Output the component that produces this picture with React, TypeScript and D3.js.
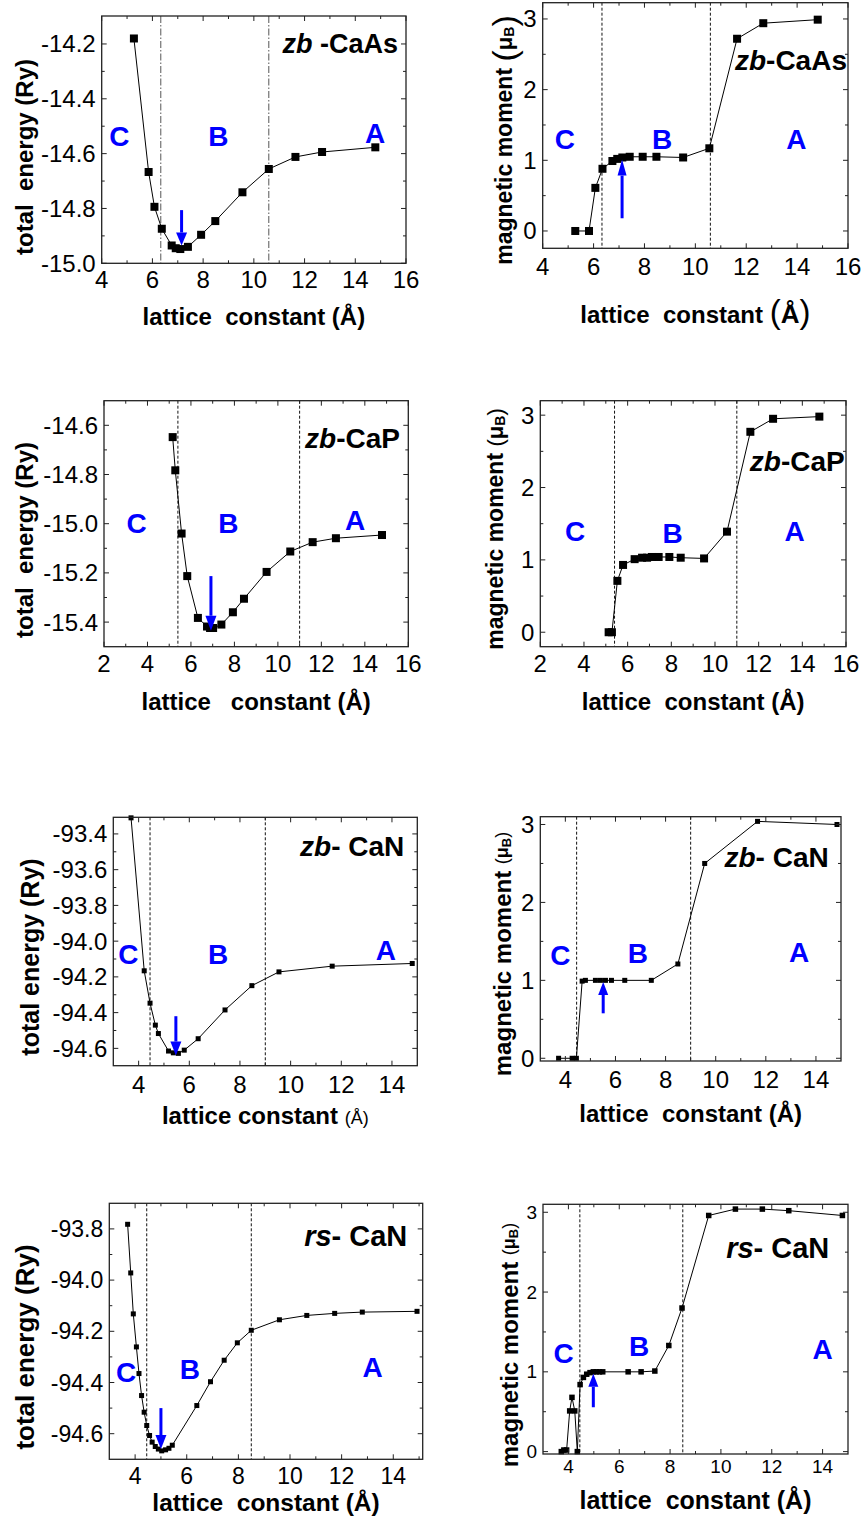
import React from 'react';
import * as d3 from 'd3';

// ---------- data ----------
const caAsEnergyX = [5.27, 5.85, 6.08, 6.37, 6.76, 6.92, 7.1, 7.4, 7.92, 8.48, 9.55, 10.59, 11.64, 12.69, 14.79];
const caAsEnergyY = [-14.18, -14.667, -14.794, -14.874, -14.935, -14.945, -14.948, -14.94, -14.896, -14.846, -14.741, -14.656, -14.612, -14.594, -14.577];

const caAsMomentX = [5.28, 5.82, 6.07, 6.35, 6.74, 6.93, 7.13, 7.42, 7.93, 8.47, 9.52, 10.55, 11.64, 12.67, 14.81];
const caAsMomentY = [0, 0, 0.61, 0.88, 0.99, 1.02, 1.04, 1.05, 1.05, 1.05, 1.04, 1.17, 2.72, 2.94, 2.99];

const caPEnergyX = [5.16, 5.28, 5.57, 5.83, 6.32, 6.74, 6.88, 7.02, 7.4, 7.93, 8.44, 9.48, 10.57, 11.6, 12.67, 14.79];
const caPEnergyY = [-14.648, -14.783, -15.04, -15.213, -15.383, -15.418, -15.424, -15.424, -15.41, -15.36, -15.305, -15.196, -15.113, -15.075, -15.059, -15.046];

const caPMomentX = [5.13, 5.28, 5.53, 5.79, 6.32, 6.66, 6.89, 7.11, 7.42, 7.91, 8.43, 9.5, 10.55, 11.62, 12.66, 14.78];
const caPMomentY = [0, 0, 0.71, 0.93, 1.01, 1.03, 1.03, 1.04, 1.04, 1.04, 1.03, 1.02, 1.39, 2.77, 2.95, 2.98];

const zbCaNEnergyX = [3.7, 4.22, 4.45, 4.66, 4.78, 5.18, 5.37, 5.57, 5.8, 6.35, 7.41, 8.47, 9.54, 11.64, 14.8];
const zbCaNEnergyY = [-93.31, -94.166, -94.347, -94.47, -94.517, -94.615, -94.625, -94.628, -94.61, -94.546, -94.385, -94.249, -94.172, -94.14, -94.125];

const zbCaNMomentX = [3.73, 4.27, 4.44, 4.67, 4.8, 5.2, 5.4, 5.6, 5.84, 6.37, 7.43, 8.49, 9.56, 11.67, 14.84];
const zbCaNMomentY = [0, 0, 0, 0.99, 1.0, 1.0, 1.0, 1.0, 1.0, 1.0, 1.0, 1.21, 2.5, 3.04, 3.0];

const rsCaNEnergyX = [3.71, 3.83, 3.93, 4.05, 4.15, 4.25, 4.35, 4.45, 4.56, 4.66, 4.78, 4.9, 5.03, 5.18, 5.31, 5.44, 6.39, 6.92, 7.45, 7.96, 8.5, 9.59, 10.65, 11.73, 12.8, 14.92];
const rsCaNEnergyY = [-93.782, -93.972, -94.132, -94.261, -94.365, -94.451, -94.516, -94.568, -94.607, -94.633, -94.65, -94.66, -94.667, -94.663, -94.657, -94.645, -94.49, -94.397, -94.313, -94.245, -94.196, -94.155, -94.138, -94.13, -94.125, -94.122];

const rsCaNMomentX = [3.72, 3.82, 3.93, 4.05, 4.14, 4.25, 4.35, 4.46, 4.59, 4.72, 4.85, 4.98, 5.1, 5.22, 5.35, 6.35, 6.86, 7.4, 7.95, 8.47, 9.52, 10.57, 11.63, 12.67, 14.78];
const rsCaNMomentY = [0, 0.02, 0.02, 0.51, 0.68, 0.51, 0, 0.84, 0.93, 0.97, 0.99, 1.0, 1.0, 1.0, 1.0, 1.0, 1.0, 1.01, 1.33, 1.8, 2.96, 3.04, 3.04, 3.02, 2.96];

// tick values
const xTicksFrom4 = [4, 6, 8, 10, 12, 14, 16];
const xTicksFrom2 = [2, 4, 6, 8, 10, 12, 14, 16];
const xTicksCaN = [4, 6, 8, 10, 12, 14];
const yTicksCaAsE = [-15.0, -14.8, -14.6, -14.4, -14.2];
const yTicksCaPE = [-15.4, -15.2, -15.0, -14.8, -14.6];
const yTicksZbCaNE = [-94.6, -94.4, -94.2, -94.0, -93.8, -93.6, -93.4];
const yTicksRsCaNE = [-94.6, -94.4, -94.2, -94.0, -93.8];
const yTicksMoment = [0, 1, 2, 3];

// region boundaries (dashed lines)
const caAsBounds = [6.33, 10.59];
const caPBounds = [5.4, 11.0];
const zbCaNBounds = [4.45, 9.0];
const rsCaNBounds = [4.45, 8.5];

const regionNames = ['C', 'B', 'A'];

// ---------- rendering helpers ----------
type Part = { t: string; size: number; weight?: string; italic?: boolean; dy?: number };

const FONT = '"Liberation Sans", Arial, Helvetica, sans-serif';
const BLUE = '#0000ff';

function Parts({ parts }: { parts: Part[] }) {
  return (
    <>
      {parts.map((p, i) => (
        <tspan key={i} fontSize={p.size} fontWeight={p.weight ?? 'bold'} fontStyle={p.italic ? 'italic' : 'normal'} dy={p.dy ?? 0}>
          {p.t}
        </tspan>
      ))}
    </>
  );
}

type Cfg = {
  frame: [number, number, number, number]; // l, r, t, b
  xDomain: [number, number];
  yDomain: [number, number];
  xMajor: number[];
  xMinorStep: number;
  yMajor: number[];
  yMinorStep: number;
  yFmt: (v: number) => string;
  tickFont: number;
  xTickBase: number;
  xs: number[];
  ys: number[];
  marker: number;
  bounds: number[];
  dash: string;
  boundColor: string;
  arrow?: { x: number; tail: number; tip: number; hw: number; hl: number };
  abc: [number, number][];
  title: { parts: Part[]; x: number; y: number };
  yLabel: { parts: Part[]; x: number; y: number };
  xLabel: { parts: Part[]; y: number };
};

function minorTicks(domain: [number, number], step: number, majors: number[]) {
  const out: number[] = [];
  const k0 = Math.ceil(domain[0] / step - 1e-6);
  const k1 = Math.floor(domain[1] / step + 1e-6);
  for (let k = k0; k <= k1; k++) {
    const v = k * step;
    if (majors.some((m) => Math.abs(m - v) < step * 0.01)) continue;
    out.push(v);
  }
  return out;
}

function Panel({ c }: { c: Cfg }) {
  const [l, r, t, b] = c.frame;
  const x = d3.scaleLinear().domain(c.xDomain).range([l, r]);
  const y = d3.scaleLinear().domain(c.yDomain).range([b, t]);
  const line = d3.line<number>().x((_, i) => x(c.xs[i])).y((_, i) => y(c.ys[i]));
  const xMin = minorTicks(c.xDomain, c.xMinorStep, c.xMajor).filter((v) => x(v) > l + 1 && x(v) < r - 1);
  const yMin = minorTicks(c.yDomain, c.yMinorStep, c.yMajor).filter((v) => y(v) < b - 1 && y(v) > t + 1);
  const maj = 5, mn = 3;
  const tickStroke = '#222';
  const ticks: JSX.Element[] = [];
  c.xMajor.forEach((v, i) => {
    const px = x(v);
    ticks.push(<line key={'xb' + i} x1={px} x2={px} y1={b} y2={b - maj} />);
    ticks.push(<line key={'xt' + i} x1={px} x2={px} y1={t} y2={t + maj} />);
  });
  xMin.forEach((v, i) => {
    const px = x(v);
    ticks.push(<line key={'xbm' + i} x1={px} x2={px} y1={b} y2={b - mn} />);
    ticks.push(<line key={'xtm' + i} x1={px} x2={px} y1={t} y2={t + mn} />);
  });
  c.yMajor.forEach((v, i) => {
    const py = y(v);
    ticks.push(<line key={'yl' + i} x1={l} x2={l + maj} y1={py} y2={py} />);
    ticks.push(<line key={'yr' + i} x1={r} x2={r - maj} y1={py} y2={py} />);
  });
  yMin.forEach((v, i) => {
    const py = y(v);
    ticks.push(<line key={'ylm' + i} x1={l} x2={l + mn} y1={py} y2={py} />);
    ticks.push(<line key={'yrm' + i} x1={r} x2={r - mn} y1={py} y2={py} />);
  });

  let arrowEl = null;
  if (c.arrow) {
    const a = c.arrow;
    const ax = x(a.x);
    const yt = y(a.tail);
    const yp = y(a.tip);
    const dir = yp > yt ? 1 : -1;
    const baseY = yp - dir * a.hl;
    arrowEl = (
      <g>
        <line x1={ax} x2={ax} y1={yt} y2={baseY} stroke={BLUE} strokeWidth={3} />
        <polygon points={`${ax - a.hw / 2},${baseY} ${ax + a.hw / 2},${baseY} ${ax},${yp}`} fill={BLUE} />
      </g>
    );
  }

  return (
    <g fontFamily={FONT}>
      {c.bounds.map((v, i) => (
        <line key={'bd' + i} x1={x(v)} x2={x(v)} y1={t} y2={b} stroke={c.boundColor} strokeWidth={1} strokeDasharray={c.dash} />
      ))}
      <path d={line(c.xs) ?? ''} fill="none" stroke="#000" strokeWidth={1} />
      {c.xs.map((v, i) => (
        <rect key={'m' + i} x={x(v) - c.marker / 2} y={y(c.ys[i]) - c.marker / 2} width={c.marker} height={c.marker} fill="#000" />
      ))}
      {arrowEl}
      <g stroke={tickStroke} strokeWidth={1}>{ticks}</g>
      <rect x={l} y={t} width={r - l} height={b - t} fill="none" stroke="#222" strokeWidth={1.3} />
      {c.xMajor.map((v, i) => (
        <text key={'xl' + i} x={x(v)} y={b + c.xTickBase} textAnchor="middle" fontSize={c.tickFont} fill="#000">
          {v}
        </text>
      ))}
      {c.yMajor.map((v, i) => (
        <text key={'yl' + i} x={l - 6} y={y(v)} textAnchor="end" dominantBaseline="central" fontSize={c.tickFont} fill="#000">
          {c.yFmt(v)}
        </text>
      ))}
      {c.abc.map((p, i) => (
        <text key={'abc' + i} x={x(p[0])} y={y(p[1])} textAnchor="middle" dominantBaseline="central" fontSize={28} fontWeight="bold" fill={BLUE}>
          {regionNames[i]}
        </text>
      ))}
      <text x={c.title.x} y={c.title.y} textAnchor="end" fill="#000" style={{ whiteSpace: 'pre' }}>
        <Parts parts={c.title.parts} />
      </text>
      <text transform={`translate(${c.yLabel.x},${c.yLabel.y}) rotate(-90)`} textAnchor="middle" dominantBaseline="central" fill="#000" style={{ whiteSpace: 'pre' }}>
        <Parts parts={c.yLabel.parts} />
      </text>
      <text x={(l + r) / 2} y={c.xLabel.y} textAnchor="middle" fill="#000" style={{ whiteSpace: 'pre' }}>
        <Parts parts={c.xLabel.parts} />
      </text>
    </g>
  );
}

const f1 = (v: number) => v.toFixed(1);
const f0 = (v: number) => String(v);

const bigMu = (base: number, paren: number, mu: number, sub: number, shift: number, parenWeight = 'normal'): Part[] => [
  { t: 'magnetic moment ', size: base },
  { t: '(', size: paren, weight: parenWeight },
  { t: 'μ', size: mu },
  { t: 'B', size: sub, dy: shift },
  { t: ')', size: paren, weight: parenWeight, dy: -shift },
];

const panels: Cfg[] = [
  {
    frame: [101.7, 406, 16, 263.3],
    xDomain: [4, 16], yDomain: [-15.0, -14.098],
    xMajor: xTicksFrom4, xMinorStep: 1, yMajor: yTicksCaAsE, yMinorStep: 0.1, yFmt: f1,
    tickFont: 24, xTickBase: 25,
    xs: caAsEnergyX, ys: caAsEnergyY, marker: 8,
    bounds: caAsBounds, dash: '7,2,1.5,2', boundColor: '#555',
    arrow: { x: 7.15, tail: -14.806, tip: -14.935, hw: 11, hl: 13 },
    abc: [[4.7, -14.537], [8.6, -14.537], [14.78, -14.525]],
    title: { parts: [{ t: 'zb', size: 27, italic: true }, { t: ' -CaAs', size: 27 }], x: 398, y: 53 },
    yLabel: { parts: [{ t: 'total  energy (Ry)', size: 24 }], x: 24, y: 157 },
    xLabel: { parts: [{ t: 'lattice  constant (Å)', size: 24 }], y: 325 },
  },
  {
    frame: [542.7, 848, 2.7, 248.3],
    xDomain: [4, 16], yDomain: [-0.245, 3.23],
    xMajor: xTicksFrom4, xMinorStep: 1, yMajor: yTicksMoment, yMinorStep: 0.5, yFmt: f0,
    tickFont: 24, xTickBase: 27,
    xs: caAsMomentX, ys: caAsMomentY, marker: 8,
    bounds: caAsBounds, dash: '3,2', boundColor: '#111',
    arrow: { x: 7.12, tail: 0.18, tip: 1.01, hw: 9, hl: 16 },
    abc: [[4.87, 1.29], [8.69, 1.29], [13.97, 1.29]],
    title: { parts: [{ t: 'zb', size: 28, italic: true }, { t: '-CaAs', size: 28 }], x: 847, y: 70 },
    yLabel: { parts: bigMu(23, 34, 22, 14, 5), x: 503.7, y: 140 },
    xLabel: { parts: [{ t: 'lattice  constant ', size: 24 }, { t: '(', size: 33, weight: 'normal' }, { t: 'Å', size: 26 }, { t: ')', size: 33, weight: 'normal' }], y: 323 },
  },
  {
    frame: [104, 408.3, 400.7, 646.7],
    xDomain: [2, 16], yDomain: [-15.5, -14.5],
    xMajor: xTicksFrom2, xMinorStep: 1, yMajor: yTicksCaPE, yMinorStep: 0.1, yFmt: f1,
    tickFont: 24, xTickBase: 25,
    xs: caPEnergyX, ys: caPEnergyY, marker: 8,
    bounds: caPBounds, dash: '3,2', boundColor: '#111',
    arrow: { x: 6.92, tail: -15.213, tip: -15.435, hw: 11, hl: 15 },
    abc: [[3.5, -15.0], [7.72, -15.0], [13.55, -14.985]],
    title: { parts: [{ t: 'zb', size: 28, italic: true }, { t: '-CaP', size: 28 }], x: 400, y: 448 },
    yLabel: { parts: [{ t: 'total  energy (Ry)', size: 24 }], x: 24, y: 540 },
    xLabel: { parts: [{ t: 'lattice   constant (Å)', size: 24 }], y: 710 },
  },
  {
    frame: [540.3, 846, 400.7, 646.7],
    xDomain: [2, 16], yDomain: [-0.2, 3.2],
    xMajor: xTicksFrom2, xMinorStep: 1, yMajor: yTicksMoment, yMinorStep: 0.5, yFmt: f0,
    tickFont: 24, xTickBase: 25,
    xs: caPMomentX, ys: caPMomentY, marker: 8,
    bounds: caPBounds, dash: '3,2', boundColor: '#111',
    abc: [[3.6, 1.39], [8.06, 1.36], [13.65, 1.39]],
    title: { parts: [{ t: 'zb', size: 28, italic: true }, { t: '-CaP', size: 28 }], x: 844.7, y: 470.7 },
    yLabel: { parts: bigMu(23, 22, 22, 14, 5), x: 495, y: 529 },
    xLabel: { parts: [{ t: 'lattice  constant (Å)', size: 24 }], y: 710 },
  },
  {
    frame: [113.3, 417.3, 817.3, 1065.7],
    xDomain: [3, 15], yDomain: [-94.697, -93.307],
    xMajor: xTicksCaN, xMinorStep: 1, yMajor: yTicksZbCaNE, yMinorStep: 0.1, yFmt: f1,
    tickFont: 24, xTickBase: 27,
    xs: zbCaNEnergyX, ys: zbCaNEnergyY, marker: 5,
    bounds: zbCaNBounds, dash: '3,2', boundColor: '#111',
    arrow: { x: 5.47, tail: -94.42, tip: -94.64, hw: 11, hl: 14 },
    abc: [[3.59, -94.075], [7.14, -94.075], [13.76, -94.055]],
    title: { parts: [{ t: 'zb', size: 28, italic: true }, { t: '- CaN', size: 28 }], x: 404.3, y: 856 },
    yLabel: { parts: [{ t: 'total energy (Ry)', size: 25 }], x: 30, y: 957 },
    xLabel: { parts: [{ t: 'lattice constant ', size: 24 }, { t: '(Å)', size: 18, weight: 'normal' }], y: 1124 },
  },
  {
    frame: [540.3, 841, 816.7, 1061],
    xDomain: [3, 15], yDomain: [-0.035, 3.1],
    xMajor: xTicksCaN, xMinorStep: 1, yMajor: yTicksMoment, yMinorStep: 0.5, yFmt: f0,
    tickFont: 24, xTickBase: 27,
    xs: zbCaNMomentX, ys: zbCaNMomentY, marker: 5,
    bounds: zbCaNBounds, dash: '3,2', boundColor: '#111',
    arrow: { x: 5.51, tail: 0.577, tip: 0.98, hw: 10, hl: 13 },
    abc: [[3.8, 1.32], [6.89, 1.34], [13.33, 1.36]],
    title: { parts: [{ t: 'zb', size: 28, italic: true }, { t: '- CaN', size: 28 }], x: 828.7, y: 867.3 },
    yLabel: { parts: bigMu(24, 18, 18, 13, 4), x: 502, y: 954 },
    xLabel: { parts: [{ t: 'lattice  constant (Å)', size: 24 }], y: 1122 },
  },
  {
    frame: [109.3, 422.7, 1203.3, 1459.3],
    xDomain: [3, 15.14], yDomain: [-94.7, -93.7],
    xMajor: xTicksCaN, xMinorStep: 1, yMajor: yTicksRsCaNE, yMinorStep: 0.1, yFmt: f1,
    tickFont: 23, xTickBase: 24.5,
    xs: rsCaNEnergyX, ys: rsCaNEnergyY, marker: 5,
    bounds: rsCaNBounds, dash: '3,2', boundColor: '#111',
    arrow: { x: 5.0, tail: -94.5, tip: -94.66, hw: 11, hl: 14 },
    abc: [[3.65, -94.36], [6.12, -94.35], [13.2, -94.34]],
    title: { parts: [{ t: 'rs', size: 29, italic: true }, { t: '- CaN', size: 29 }], x: 407.3, y: 1246 },
    yLabel: { parts: [{ t: 'total energy (Ry)', size: 26 }], x: 25, y: 1347 },
    xLabel: { parts: [{ t: 'lattice  constant (Å)', size: 24.5 }], y: 1511 },
  },
  {
    frame: [543, 848, 1204.3, 1454],
    xDomain: [3, 15], yDomain: [-0.03, 3.1],
    xMajor: xTicksCaN, xMinorStep: 1, yMajor: yTicksMoment, yMinorStep: 0.5, yFmt: f0,
    tickFont: 19, xTickBase: 19,
    xs: rsCaNMomentX, ys: rsCaNMomentY, marker: 5.5,
    bounds: rsCaNBounds, dash: '3,2', boundColor: '#111',
    arrow: { x: 4.98, tail: 0.556, tip: 0.975, hw: 10, hl: 13 },
    abc: [[3.81, 1.23], [6.78, 1.32], [14.0, 1.28]],
    title: { parts: [{ t: 'rs', size: 29, italic: true }, { t: '- CaN', size: 29 }], x: 829.3, y: 1258.3 },
    yLabel: { parts: bigMu(24, 18, 18, 13, 4), x: 508.7, y: 1345 },
    xLabel: { parts: [{ t: 'lattice  constant (Å)', size: 25 }], y: 1509 },
  },
];

export default function App() {
  return (
    <svg width={865} height={1519} viewBox="0 0 865 1519" style={{ position: 'absolute', left: 0, top: 0, background: '#fff' }}>
      <rect x={0} y={0} width={865} height={1519} fill="#fff" />
      {panels.map((c, i) => (
        <Panel key={i} c={c} />
      ))}
    </svg>
  );
}
